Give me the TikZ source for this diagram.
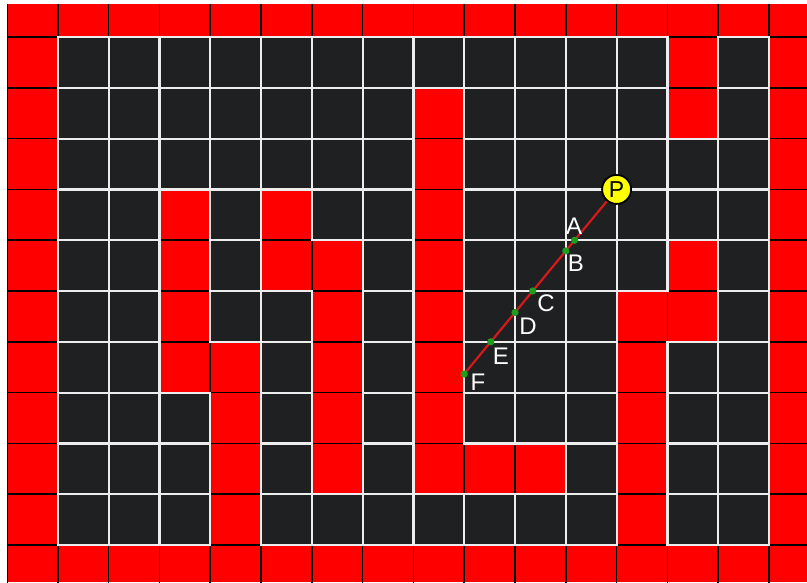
\documentclass[tikz,border=0pt]{standalone}
\usepackage{fontspec}
\setmainfont{Liberation Sans}
\definecolor{cred}{HTML}{FF0000}
\definecolor{cdark}{HTML}{1F2022}
\definecolor{cwhite}{HTML}{EDEDED}
\definecolor{cline}{HTML}{D41A1A}
\definecolor{cdot}{HTML}{1E9E1E}
\definecolor{cyel}{HTML}{FFFF00}
\newcommand\markred[2]{\expandafter\def\csname rc#1-#2\endcsname{1}}
\markred{13}{1}\markred{13}{2}
\markred{8}{2}\markred{8}{3}\markred{8}{4}\markred{8}{5}\markred{8}{6}\markred{8}{7}\markred{8}{8}\markred{8}{9}
\markred{9}{9}\markred{10}{9}
\markred{3}{4}\markred{3}{5}\markred{3}{6}\markred{3}{7}
\markred{4}{7}\markred{4}{8}\markred{4}{9}\markred{4}{10}
\markred{5}{4}\markred{5}{5}
\markred{6}{5}\markred{6}{6}\markred{6}{7}\markred{6}{8}\markred{6}{9}
\markred{13}{5}\markred{13}{6}
\markred{12}{6}\markred{12}{7}\markred{12}{8}\markred{12}{9}\markred{12}{10}
\tikzset{
  blackline/.style={draw=black, line width=1.6pt},
  whiteline/.style={draw=cwhite, line width=2.2pt},
  rayline/.style={draw=cline, line width=2.2pt},
  pcirc/.style={circle, fill=cyel, draw=black, line width=1.8pt, minimum size=29pt, inner sep=0pt, font=\fontsize{23}{23}\selectfont, text=black},
  lab/.style={inner sep=0pt, text=white, font=\fontsize{24}{24}\selectfont}
}
\begin{document}
\begin{tikzpicture}[x=1pt,y=-1pt]
\useasboundingbox (0,0) rectangle (807,582);
\fill[white] (0,0) rectangle (807,582);
\begin{scope}
  \clip (7,4) rectangle (807,582);
  \fill[cred] (7,4) rectangle (807,582);
  \begin{scope}[shift={(7,-13.8)}, x=50.8pt, y=-50.8pt]
    \foreach \i in {0,...,16} \draw[blackline] (\i,0) -- (\i,12);
    \foreach \j in {0,...,12} \draw[blackline] (0,\j) -- (16,\j);
    \foreach \c in {1,...,14}{\foreach \r in {1,...,10}{%
      \ifcsname rc\c-\r\endcsname\else\fill[cdark] (\c,\r) rectangle ++(1,1);\fi}}
    \foreach \c in {1,...,14}{\foreach \r in {1,...,10}{%
      \ifcsname rc\c-\r\endcsname\else\draw[whiteline] (\c,\r) rectangle ++(1,1);\fi}}
  \end{scope}
\end{scope}
\begin{scope}[shift={(7,-13.8)}, x=50.8pt, y=-50.8pt]
  \coordinate (P) at (12,4);
  \coordinate (A) at (11.174,5);
  \coordinate (B) at (11,5.211);
  \coordinate (C) at (10.348,6);
  \coordinate (D) at (10,6.422);
  \coordinate (E) at (9.523,7);
  \coordinate (F) at (9,7.633);
  \draw[rayline] (P) -- (F);
  \foreach \n in {A,B,C,D,E,F} \fill[cdot] (\n) circle (3.6pt);
  \node[pcirc] (Pn) at (P) {P};
\end{scope}
\node[lab] (la) at (574,226) {A};
\node[lab] (lb) at (576,263) {B};
\node[lab] (lc) at (546,303) {C};
\node[lab] (ld) at (528,326) {D};
\node[lab] (le) at (501,356) {E};
\node[lab] (lf) at (478,382) {F};
\end{tikzpicture}
\end{document}
